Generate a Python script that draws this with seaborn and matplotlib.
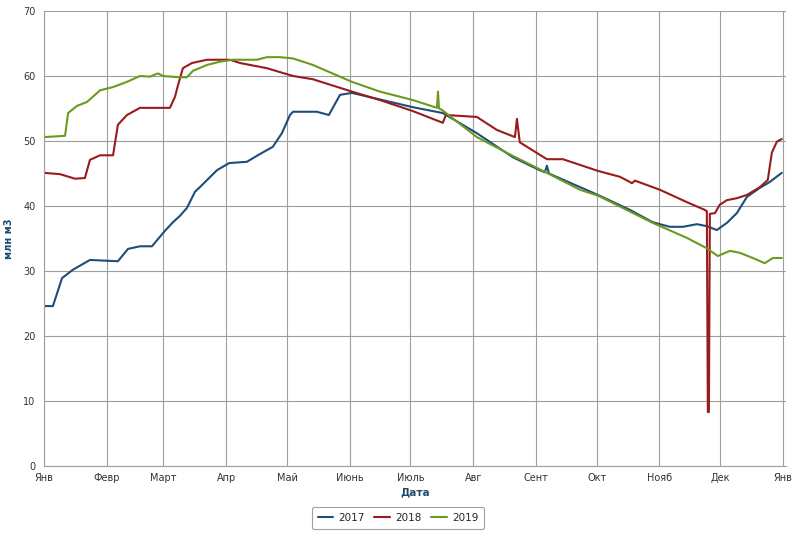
import numpy as np
import pandas as pd
import matplotlib
matplotlib.use("Agg")
import matplotlib.pyplot as plt
import seaborn as sns

# ---- data (day of year, value in млн м3) ----
month_ticks = [0, 31, 59, 90, 120, 151, 181, 212, 243, 273, 304, 334, 365]
month_labels = ["Янв", "Февр", "Март", "Апр", "Май", "Июнь", "Июль",
                "Авг", "Сент", "Окт", "Нояб", "Дек", "Янв"]

days_2017 = [0, 4.4, 8.9, 14.3, 22.7, 36.5, 41.5, 47.4, 53.3, 59.8, 63.7, 67.2,
             70.6, 74.6, 77, 85.4, 91.4, 100.2, 106.7, 113, 117.5, 121.5, 123,
             134.8, 140.7, 146.2, 152.1, 182.2, 197, 213.8, 231.6, 244.9, 247.4,
             248.4, 249.4, 273.6, 289.4, 300.7, 309.1, 315.6, 322.5, 327.4,
             332.3, 337.3, 342.2, 347.2, 353.6, 358.5, 364.4]
vals_2017 = [24.6, 24.6, 28.9, 30.2, 31.7, 31.5, 33.4, 33.8, 33.8, 36.2, 37.5, 38.5,
             39.7, 42.2, 42.9, 45.5, 46.6, 46.8, 48.0, 49.1, 51.2, 54.0, 54.5,
             54.5, 54.0, 57.1, 57.4, 55.2, 54.3, 51.2, 47.5, 45.5, 45.2,
             46.2, 45.0, 41.7, 39.4, 37.5, 36.8, 36.8, 37.2, 36.9,
             36.3, 37.4, 38.9, 41.4, 42.8, 43.7, 45.1]

days_2018 = [0, 7.9, 15.3, 20.2, 22.7, 27.7, 34.1, 36.5, 41, 47.4, 62.2, 64.7,
             66.2, 68.6, 73.1, 80.5, 91.9, 96.8, 110.1, 123, 132.8, 152.1, 165.9,
             182.2, 197, 198.5, 213.8, 223.7, 232.6, 233.6, 235, 248.4, 256.3,
             273.6, 284.4, 289.4, 290.4, 291.9, 304.2, 317.5, 326.4, 327.4,
             327.9, 328.4, 328.9, 331.4, 333.8, 337.3, 342.2, 347.2, 353.6,
             357.5, 359.5, 362, 364.4]
vals_2018 = [45.1, 44.9, 44.2, 44.3, 47.1, 47.8, 47.8, 52.5, 54.0, 55.1, 55.1, 56.8,
             58.6, 61.2, 62.0, 62.5, 62.5, 62.0, 61.2, 60.0, 59.5, 57.6, 56.3,
             54.6, 52.8, 54.0, 53.7, 51.7, 50.6, 53.4, 49.8, 47.2, 47.2,
             45.4, 44.5, 43.7, 43.5, 43.9, 42.5, 40.6, 39.4, 39.2,
             8.3, 8.3, 38.8, 38.9, 40.2, 40.9, 41.2, 41.7, 42.9,
             44.0, 48.2, 49.9, 50.3]

days_2019 = [0, 10.4, 11.9, 16.3, 21.2, 27.7, 34.1, 41, 47.4, 52.3, 56.3, 58.8,
             67.2, 70.6, 73.6, 80.5, 86.9, 93.3, 105.2, 110.1, 116.5, 123, 132.8,
             152.1, 165.9, 182.2, 194.1, 194.6, 195.1, 196.5, 213.8, 231.6, 248.4,
             264.7, 273.6, 300.7, 317.5, 327.4, 332.8, 338.8, 343.7, 350.1, 356,
             360, 364.4]
vals_2019 = [50.6, 50.8, 54.3, 55.4, 56.0, 57.8, 58.3, 59.1, 60.0, 59.9, 60.4, 60.0,
             59.8, 59.8, 60.8, 61.7, 62.2, 62.5, 62.5, 62.9, 62.9, 62.7, 61.7,
             59.1, 57.6, 56.3, 55.1, 57.6, 55.0, 54.8, 50.6, 47.7, 45.1,
             42.5, 41.6, 37.4, 35.1, 33.5, 32.3, 33.1, 32.8, 32.0, 31.2,
             32.0, 32.0]

series = {"2017": (days_2017, vals_2017),
          "2018": (days_2018, vals_2018),
          "2019": (days_2019, vals_2019)}
colors = {"2017": "#1d4d78", "2018": "#9a1b1b", "2019": "#6b9a1e"}

frames = [pd.DataFrame({"day": d, "value": v, "year": y}) for y, (d, v) in series.items()]
df = pd.concat(frames, ignore_index=True)

# ---- plot ----
sns.set_theme(style="white")
plt.rcParams["font.family"] = ["DejaVu Sans"]

fig = plt.figure(figsize=(7.97, 5.41), dpi=100)
ax = fig.add_axes([44 / 797, 1 - 466 / 541, (786 - 44) / 797, (466 - 11) / 541])

sns.lineplot(data=df, x="day", y="value", hue="year", palette=colors,
             estimator=None, sort=True, linewidth=1.5, ax=ax)

ax.set_xlim(0, 366.5)
ax.set_ylim(0, 70)
ax.set_xticks(month_ticks)
ax.set_xticklabels(month_labels)
ax.set_yticks(np.arange(0, 71, 10))

grid_c = "#9e9e9e"
ax.grid(True, color=grid_c, linewidth=0.8)
for s in ["top", "right"]:
    ax.spines[s].set_visible(False)
for s in ["left", "bottom"]:
    ax.spines[s].set_color(grid_c)
    ax.spines[s].set_linewidth(0.8)
ax.tick_params(axis="x", direction="out", length=4, width=0.8, color=grid_c,
               labelsize=7, labelcolor="#333333", pad=1)
ax.tick_params(axis="y", length=0, labelsize=7, labelcolor="#333333", pad=6)

ax.set_xlabel("Дата", fontsize=7.5, fontweight="bold", color="#1a4a6e", labelpad=3)
ax.set_ylabel("млн м3", fontsize=7, fontweight="bold", color="#1a4a6e")
ax.yaxis.set_label_coords(-0.04, 0.5)

leg = ax.legend(loc="center", bbox_to_anchor=(398 / 797, 1 - 518 / 541),
                bbox_transform=fig.transFigure, ncol=3, frameon=True,
                fancybox=True, fontsize=7.5, handlelength=1.5, columnspacing=0.9,
                handletextpad=0.5, borderpad=0.55, title=None)
leg.get_frame().set_edgecolor("#888888")
leg.get_frame().set_linewidth(0.8)

fig.savefig("out.png", dpi=100)
